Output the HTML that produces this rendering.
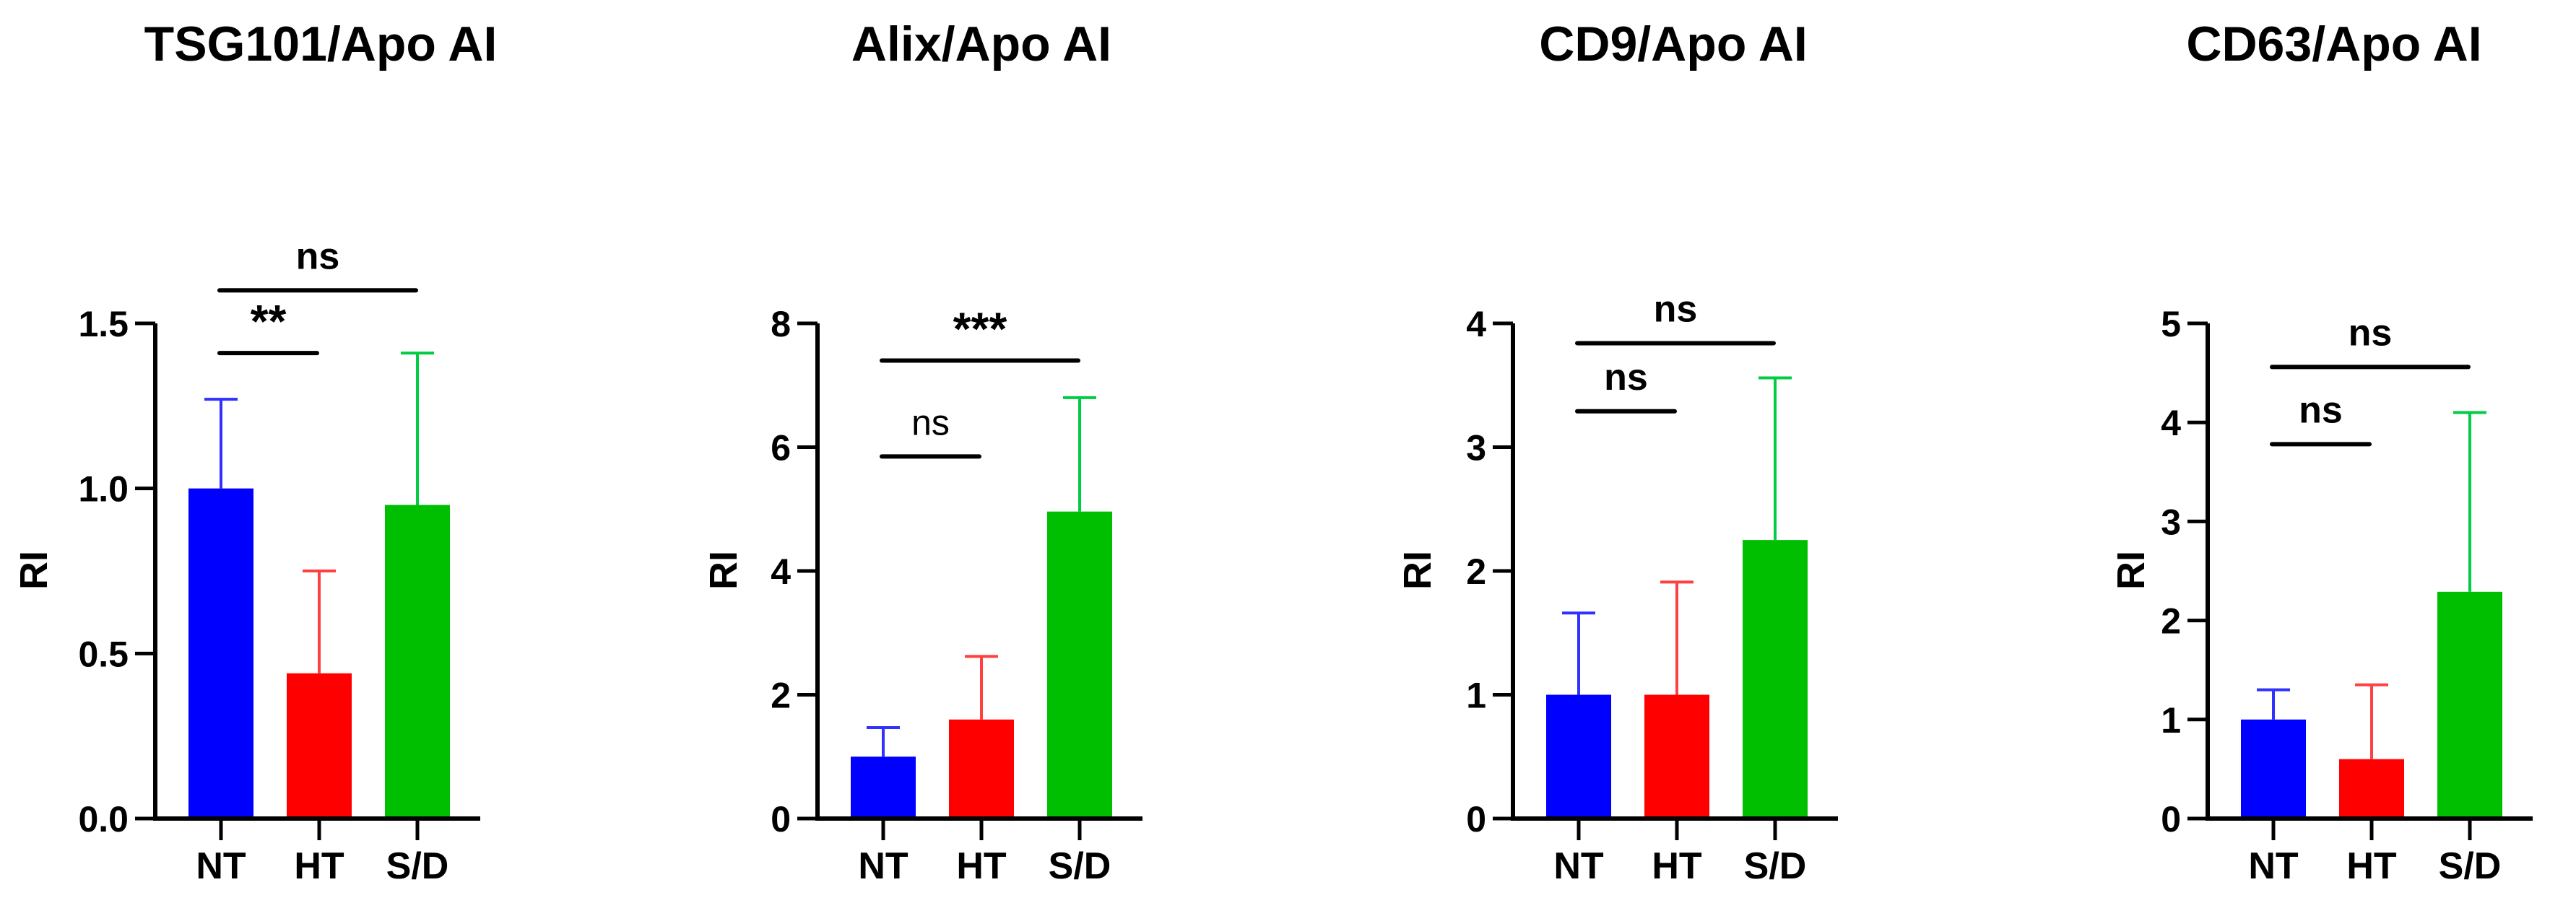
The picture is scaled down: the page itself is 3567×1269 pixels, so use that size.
<!DOCTYPE html>
<html><head><meta charset="utf-8"><style>
html,body{margin:0;padding:0;background:#fff}
svg{display:block}
text{font-family:"Liberation Sans",Arial,sans-serif}
</style></head><body>
<svg id="chart" width="3567" height="1269" viewBox="0 0 3567 1269" xmlns="http://www.w3.org/2000/svg"></svg>
<script>
const categories = ["NT","HT","S/D"];
const titles = ["TSG101/Apo AI","Alix/Apo AI","CD9/Apo AI","CD63/Apo AI"];
const means = [[1.0,0.44,0.95],[1.0,1.6,4.96],[1.0,1.0,2.25],[1.0,0.6,2.29]];
const errTops = [[1.27,0.75,1.41],[1.47,2.62,6.8],[1.66,1.91,3.56],[1.3,1.35,4.1]];
const yMax = [1.5,8,4,5];
const tickVals = [[0,0.5,1.0,1.5],[0,2,4,6,8],[0,1,2,3,4],[0,1,2,3,4,5]];
const tickLabels = [["0.0","0.5","1.0","1.5"],["0","2","4","6","8"],["0","1","2","3","4"],["0","1","2","3","4","5"]];
// significance: [fromIdx, toIdx, yValue, label, bold]
const sig0 = [[0,1,1.41,"**",true],[0,2,1.6,"ns",true]];
const sig1 = [[0,1,5.85,"ns",false],[0,2,7.4,"***",true]];
const sig2 = [[0,1,3.29,"ns",true],[0,2,3.84,"ns",true]];
const sig3 = [[0,1,3.78,"ns",true],[0,2,4.56,"ns",true]];
const sigs = [sig0,sig1,sig2,sig3];

const axisX = [215,1132,2095,3057];
const titleX = [444,1359,2317,3232];
const riOff = [169,131,133,107];
const barFill = ["#0000ff","#ff0000","#00bf00"];
const errCol = ["#3030ff","#ff4040","#00cc44"];
const TOP=448, ZERO=1134;
const NS="http://www.w3.org/2000/svg";
const svg=document.getElementById('chart');
function mk(tag,attrs,parent){const e=document.createElementNS(NS,tag);for(const k in attrs)e.setAttribute(k,attrs[k]);(parent||svg).appendChild(e);return e;}

for(let p=0;p<4;p++){
  const ax=axisX[p];
  const g=mk('g',{});
  
  
  const y=v=>ZERO-(v/yMax[p])*(ZERO-TOP);
  const xc=i=>ax+91+i*136;
  const t=mk('text',{x:titleX[p],y:84,'text-anchor':'middle','font-size':68,'font-weight':'bold',fill:'#000'},g);
  t.textContent=titles[p];
  
  
  for(let i=0;i<3;i++){
    const r=mk('rect',{x:xc(i)-45,y:y(means[p][i]),width:90,height:ZERO-y(means[p][i]),fill:barFill[i]},g);
    
    
    const e=mk('path',{d:`M${xc(i)} ${y(means[p][i])} V${y(errTops[p][i])} M${xc(i)-23} ${y(errTops[p][i])} H${xc(i)+23}`,stroke:errCol[i],'stroke-width':4,fill:'none'},g);
    
    
  }
  const a=mk('path',{d:`M${ax} ${TOP} V${ZERO} H${ax+450}`,stroke:'#000','stroke-width':6,fill:'none','stroke-linejoin':'miter'},g);
  
  
  tickVals[p].forEach((v,k)=>{
    mk('line',{x1:ax-28,x2:ax,y1:y(v),y2:y(v),stroke:'#000','stroke-width':5},g);
    const tl=mk('text',{x:ax-37,y:y(v)+18,'text-anchor':'end','font-size':50,'font-weight':'bold'},g);
    tl.textContent=tickLabels[p][k];
    
    
  });
  categories.forEach((c,i)=>{
    mk('line',{x1:xc(i),x2:xc(i),y1:ZERO,y2:ZERO+30,stroke:'#000','stroke-width':5},g);
    const cl=mk('text',{x:xc(i),y:ZERO+83,'text-anchor':'middle','font-size':52,'font-weight':'bold'},g);
    cl.textContent=c;
    
    
  });
  const yt=mk('text',{x:0,y:0,'text-anchor':'middle','font-size':54,'font-weight':'bold',transform:`translate(${ax-riOff[p]+19},790) rotate(-90)`},g);
  yt.textContent='RI';
  
  
  sigs[p].forEach(s=>{
    const x1=xc(s[0])-2, x2=xc(s[1])+(s[1]==2?-2:-3);
    const ly=y(s[2]);
    const l=mk('line',{x1:x1,x2:x2,y1:ly,y2:ly,stroke:'#000','stroke-width':6,'stroke-linecap':'round'},g);
    
    
    const star=s[3].indexOf('*')>=0;
    const st=mk('text',{x:(x1+x2)/2,y:star?ly-22:ly-30,'text-anchor':'middle','font-size':star?64:(s[4]?52:50),'font-weight':s[4]?'bold':'normal'},g);
    st.textContent=s[3];
    
    
  });
}
</script>
</body></html>
